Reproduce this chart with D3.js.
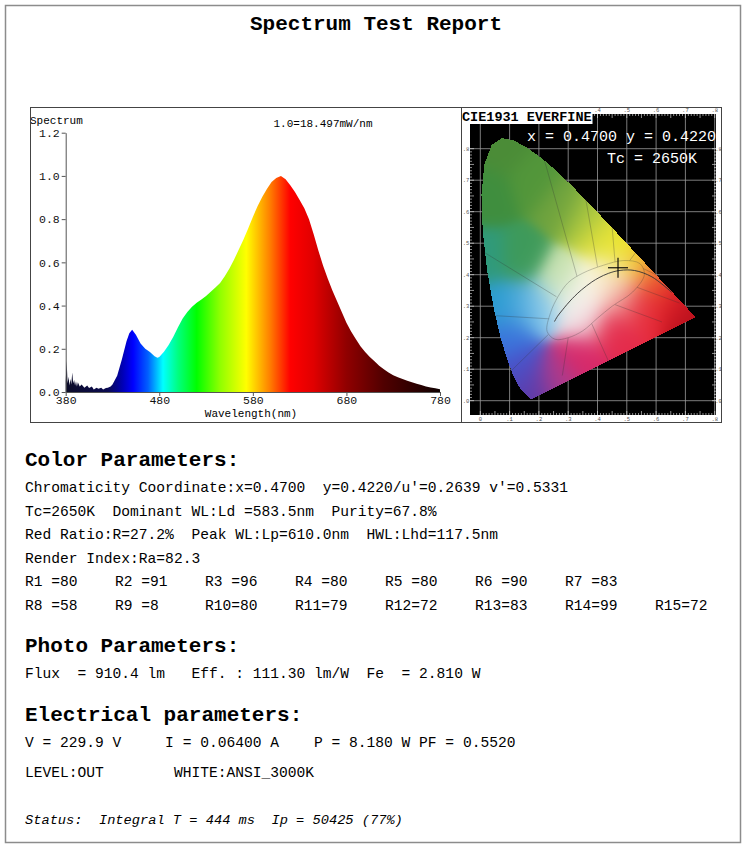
<!DOCTYPE html>
<html>
<head>
<meta charset="utf-8">
<script src="https://cdn.jsdelivr.net/npm/d3@7"></script>
<style>
body { margin: 0; background: #fff; }
text { font-family: "Liberation Mono", "Courier New", monospace; }
</style>
</head>
<body>
<script>
// ---- spectrum (relative, 1.0 = 18.497 mW/nm) ----
var wavelengths = [380,381,382,383,384,385,386,387,388,389,390,391,392,393,395,397,400,403,405,408,410,413,415,418,420,423,425,428,430,435,440,445,448,451,455,460,465,470,475,478,480,485,490,495,500,505,510,515,520,525,530,535,540,545,550,555,560,565,570,575,580,585,590,595,600,605,610,615,620,625,630,635,640,645,650,655,660,665,670,675,680,685,690,695,700,705,710,715,720,725,730,735,740,745,750,755,760,765,770,775,780];
var intensity = [0.05,0.145,0.04,0.07,0.03,0.06,0.035,0.09,0.04,0.055,0.03,0.05,0.025,0.045,0.025,0.035,0.02,0.03,0.018,0.025,0.012,0.02,0.015,0.02,0.012,0.018,0.02,0.025,0.035,0.075,0.15,0.235,0.272,0.288,0.265,0.225,0.2,0.185,0.166,0.158,0.162,0.186,0.217,0.256,0.3,0.34,0.37,0.395,0.413,0.428,0.444,0.464,0.484,0.505,0.536,0.572,0.613,0.66,0.706,0.757,0.81,0.86,0.903,0.94,0.972,0.99,1.0,0.985,0.957,0.926,0.888,0.85,0.8,0.73,0.655,0.585,0.525,0.47,0.42,0.37,0.32,0.28,0.245,0.212,0.185,0.162,0.142,0.122,0.105,0.09,0.078,0.068,0.06,0.052,0.045,0.038,0.032,0.026,0.021,0.017,0.013];
var specYTicks = [0, 0.2, 0.4, 0.6, 0.8, 1.0, 1.2];
var specXTicks = [380, 480, 580, 680, 780];
var specColorWl = [380, 425, 440, 452, 468, 484, 500, 520, 545, 573, 598, 620, 645, 680, 720, 780];
var specColors = ['#0c0c28','#0a0a50','#0000b0','#0000ff','#0060ff','#00ffff','#00ff80','#00ff00','#90ff00','#ffff00','#ff8000','#ff0000','#e00000','#900000','#500000','#100000'];

// ---- CIE 1931 diagram ----
var locusX = [0.1741,0.1733,0.1726,0.1714,0.1689,0.1644,0.1566,0.1440,0.1355,0.1241,0.1096,0.0913,0.0687,0.0454,0.0235,0.0082,0.0039,0.0139,0.0389,0.0743,0.1142,0.1547,0.1929,0.2296,0.2658,0.3016,0.3373,0.3731,0.4087,0.4441,0.4788,0.5125,0.5448,0.5752,0.6029,0.6270,0.6482,0.6658,0.6915,0.7079,0.7190,0.7260,0.7300,0.7334,0.7347];
var locusY = [0.0050,0.0048,0.0048,0.0051,0.0069,0.0109,0.0177,0.0297,0.0399,0.0578,0.0868,0.1327,0.2007,0.2950,0.4127,0.5384,0.6548,0.7502,0.8120,0.8338,0.8262,0.8059,0.7816,0.7543,0.7243,0.6923,0.6589,0.6245,0.5896,0.5547,0.5202,0.4866,0.4544,0.4242,0.3965,0.3725,0.3514,0.3340,0.3083,0.2920,0.2809,0.2740,0.2700,0.2666,0.2653];
var planckX = [0.6528,0.5857,0.5267,0.4770,0.4369,0.4053,0.3805,0.3451,0.3221,0.3064,0.2952,0.2807,0.2637,0.2531];
var planckY = [0.3444,0.3931,0.4133,0.4137,0.4041,0.3907,0.3768,0.3516,0.3318,0.3166,0.3048,0.2884,0.2682,0.2513];
var whiteX = [0.228,0.24,0.265,0.30,0.35,0.42,0.49,0.545,0.56,0.52,0.45,0.40,0.35,0.30,0.255];
var whiteY = [0.22,0.28,0.33,0.375,0.405,0.43,0.445,0.435,0.40,0.345,0.30,0.262,0.222,0.20,0.195];
var regionLines = [
  [[0.232,0.21],[0.10,0.09]], [[0.235,0.26],[0.05,0.27]], [[0.26,0.33],[0.015,0.47]],
  [[0.33,0.395],[0.22,0.76]], [[0.40,0.425],[0.36,0.64]], [[0.46,0.44],[0.45,0.55]],
  [[0.51,0.445],[0.53,0.47]], [[0.555,0.42],[0.60,0.40]], [[0.535,0.36],[0.68,0.31]],
  [[0.38,0.245],[0.44,0.12]], [[0.30,0.20],[0.28,0.08]], [[0.46,0.305],[0.62,0.25]]
];
var cieTicks = [0, 0.1, 0.2, 0.3, 0.4, 0.5, 0.6, 0.7, 0.8];
var cieTickLabels = ['0', '.1', '.2', '.3', '.4', '.5', '.6', '.7', '.8'];
var measX = 0.4700, measY = 0.4220;
// anchor colours for painting the diagram [x, y, colour]
var cieAnchors = [
  [0.08,0.80,'#4b8c37'],[0.03,0.65,'#3f8e3e'],[0.18,0.70,'#52963a'],[0.28,0.62,'#6ea23e'],
  [0.36,0.58,'#a8c640'],[0.42,0.52,'#dede3c'],[0.48,0.48,'#f0ec28'],[0.54,0.44,'#f0b830'],
  [0.60,0.38,'#ec5a30'],[0.66,0.32,'#dc1e28'],[0.72,0.27,'#b8101c'],[0.55,0.30,'#e62a3a'],
  [0.45,0.22,'#e42a4a'],[0.35,0.14,'#d82868'],[0.26,0.07,'#b03a8a'],[0.18,0.03,'#5c3aa8'],
  [0.14,0.10,'#4a50c8'],[0.10,0.20,'#3a74dc'],[0.06,0.30,'#2a9cd2'],[0.14,0.30,'#4eaadc'],
  [0.02,0.45,'#2f9a7c'],[0.14,0.45,'#3e9a5a'],[0.21,0.30,'#90cced'],[0.27,0.38,'#c8e2b0'],
  [0.32,0.32,'#f6f6f2'],[0.40,0.37,'#faf6e4'],[0.36,0.26,'#f2dde2'],[0.46,0.40,'#f6eebc'],
  [0.48,0.33,'#f0a0a0']
];

// ---- report texts ----
var reportTitle = 'Spectrum Test Report';
var colorLines = [
  "Chromaticity Coordinate:x=0.4700  y=0.4220/u'=0.2639 v'=0.5331",
  "Tc=2650K  Dominant WL:Ld =583.5nm  Purity=67.8%",
  "Red Ratio:R=27.2%  Peak WL:Lp=610.0nm  HWL:Lhd=117.5nm",
  "Render Index:Ra=82.3"
];
var rNames = ['R1','R2','R3','R4','R5','R6','R7','R8','R9','R10','R11','R12','R13','R14','R15'];
var rValues = [80, 91, 96, 80, 80, 90, 83, 58, 8, 80, 79, 72, 83, 99, 72];
var photoLine = 'Flux  = 910.4 lm   Eff. : 111.30 lm/W  Fe  = 2.810 W';
var elecLines = ['V = 229.9 V     I = 0.06400 A    P = 8.180 W PF = 0.5520', 'LEVEL:OUT        WHITE:ANSI_3000K'];
var statusLine = 'Status:  Integral T = 444 ms  Ip = 50425 (77%)';

var svg = d3.select('body').append('svg')
    .attr('width', 750)
    .attr('height', 847);

// page frame
svg.append('rect').attr('x', 5.5).attr('y', 5.5).attr('width', 735).attr('height', 837)
    .attr('fill', '#fff').attr('stroke', '#8c8c8c').attr('stroke-width', 1.5);

svg.append('text').attr('x', 376).attr('y', 30).attr('text-anchor', 'middle')
    .attr('font-size', 21).attr('font-weight', 'bold').text(reportTitle);

// ================= spectrum chart =================
var x = d3.scaleLinear().domain([380, 780]).range([65.7, 440]);
var y = d3.scaleLinear().domain([0, 1.2]).range([392, 132.7]);

var defs = svg.append('defs');
var grad = defs.append('linearGradient').attr('id', 'specGrad')
    .attr('gradientUnits', 'userSpaceOnUse')
    .attr('x1', x(380)).attr('x2', x(780)).attr('y1', 0).attr('y2', 0);
specColorWl.forEach(function (w, i) {
    grad.append('stop').attr('offset', (w - 380) / 400).attr('stop-color', specColors[i]);
});

var specData = wavelengths.map(function (w, i) { return { wl: w, v: intensity[i] }; });
var area = d3.area()
    .x(function (d) { return x(d.wl); })
    .y0(y(0))
    .y1(function (d) { return y(d.v); });
svg.append('path').datum(specData).attr('d', area).attr('fill', 'url(#specGrad)');

var yAxis = svg.append('g').attr('transform', 'translate(' + x(380) + ',0)')
    .call(d3.axisLeft(y).tickValues(specYTicks).tickFormat(d3.format('.1f'))
        .tickSize(4).tickSizeOuter(0).tickPadding(2));
var xAxis = svg.append('g').attr('transform', 'translate(0,' + y(0) + ')')
    .call(d3.axisBottom(x).tickValues(specXTicks).tickSize(4).tickSizeOuter(0).tickPadding(0));
[yAxis, xAxis].forEach(function (a) {
    a.selectAll('text').attr('font-size', 11.5).attr('fill', '#111')
        .attr('font-family', '"Liberation Mono", monospace');
    a.selectAll('line,path').attr('stroke', '#555');
});

svg.append('text').attr('x', 30).attr('y', 124).attr('font-size', 11).text('Spectrum');
svg.append('text').attr('x', 323).attr('y', 127).attr('font-size', 11)
    .attr('text-anchor', 'middle').text('1.0=18.497mW/nm');
svg.append('text').attr('x', 251).attr('y', 417).attr('font-size', 11)
    .attr('text-anchor', 'middle').text('Wavelength(nm)');

// ================= CIE diagram =================
var cx = d3.scaleLinear().domain([0, 0.8]).range([480.3, 714.7]);
var cy = d3.scaleLinear().domain([0, 0.8]).range([400.7, 148.7]);
var bx0 = 470, bx1 = 716, by0 = 114, by1 = 415;

svg.append('rect').attr('x', bx0).attr('y', by0).attr('width', bx1 - bx0).attr('height', by1 - by0)
    .attr('fill', '#000');

// grid
var grid = svg.append('g').attr('stroke', '#cfcfcf').attr('stroke-width', 0.8).attr('opacity', 0.75);
cieTicks.forEach(function (t) {
    grid.append('line').attr('x1', cx(t)).attr('x2', cx(t)).attr('y1', by0).attr('y2', by1);
    grid.append('line').attr('x1', bx0).attr('x2', bx1).attr('y1', cy(t)).attr('y2', cy(t));
});
// ruler ticks along edges
var fine = d3.range(0, 0.81, 0.01);
var ruler = svg.append('g').attr('stroke', '#eee').attr('stroke-width', 0.6);
fine.forEach(function (t, i) {
    var len = i % 5 === 0 ? 4 : 2;
    ruler.append('line').attr('x1', cx(t)).attr('x2', cx(t)).attr('y1', by1).attr('y2', by1 - len);
    ruler.append('line').attr('x1', cx(t)).attr('x2', cx(t)).attr('y1', by0).attr('y2', by0 + len);
    ruler.append('line').attr('x1', bx0).attr('x2', bx0 + len).attr('y1', cy(t)).attr('y2', cy(t));
    ruler.append('line').attr('x1', bx1).attr('x2', bx1 - len).attr('y1', cy(t)).attr('y2', cy(t));
});

// paint the chromaticity area (smooth gaussian blend of anchor colours)
var locusPoly = locusX.map(function (v, i) { return [v, locusY[i]]; });
var anchors = cieAnchors.map(function (a) { var c = d3.rgb(a[2]); return [a[0], a[1], c.r, c.g, c.b]; });
var sigma2 = 2 * 0.048 * 0.048;
var cw = bx1 - bx0, ch = by1 - by0;
var canvas = document.createElement('canvas');
canvas.width = cw; canvas.height = ch;
var ctx = canvas.getContext('2d');
var img = ctx.createImageData(cw, ch);
for (var py = 0; py < ch; py++) {
    for (var px = 0; px < cw; px++) {
        var u = cx.invert(bx0 + px + 0.5), v = cy.invert(by0 + py + 0.5);
        if (!d3.polygonContains(locusPoly, [u, v])) continue;
        var sw = 0, r = 0, g = 0, b = 0;
        for (var k = 0; k < anchors.length; k++) {
            var dx = u - anchors[k][0], dy = v - anchors[k][1];
            var w = Math.exp(-(dx * dx + dy * dy) / sigma2) + 1e-12;
            sw += w; r += w * anchors[k][2]; g += w * anchors[k][3]; b += w * anchors[k][4];
        }
        var idx = (py * cw + px) * 4;
        img.data[idx] = r / sw; img.data[idx + 1] = g / sw; img.data[idx + 2] = b / sw; img.data[idx + 3] = 255;
    }
}
ctx.putImageData(img, 0, 0);
svg.append('image').attr('x', bx0).attr('y', by0).attr('width', cw).attr('height', ch)
    .attr('href', canvas.toDataURL());

var lineFn = d3.line().x(function (d) { return cx(d[0]); }).y(function (d) { return cy(d[1]); });
var regions = svg.append('g').attr('stroke', '#333').attr('stroke-width', 0.6).attr('fill', 'none').attr('opacity', 0.45);
regionLines.forEach(function (l) { regions.append('path').attr('d', lineFn(l)); });
regions.append('path')
    .attr('d', d3.line().curve(d3.curveCatmullRomClosed)
        .x(function (d) { return cx(d[0]); }).y(function (d) { return cy(d[1]); })
        (whiteX.map(function (v, i) { return [v, whiteY[i]]; })));

svg.append('path')
    .attr('d', d3.line().curve(d3.curveCatmullRom)
        .x(function (d) { return cx(d[0]); }).y(function (d) { return cy(d[1]); })
        (planckX.map(function (v, i) { return [v, planckY[i]]; })))
    .attr('fill', 'none').attr('stroke', '#333').attr('stroke-width', 0.9);

// measured point
svg.append('g').attr('stroke', '#000').attr('stroke-width', 1.1)
    .call(function (gg) {
        gg.append('line').attr('x1', cx(measX) - 10).attr('x2', cx(measX) + 10)
            .attr('y1', cy(measY)).attr('y2', cy(measY));
        gg.append('line').attr('x1', cx(measX)).attr('x2', cx(measX))
            .attr('y1', cy(measY) - 10).attr('y2', cy(measY) + 10);
    });

// tiny tick labels around the photo
var tl = svg.append('g').attr('font-size', 5.5).attr('fill', '#555');
cieTicks.forEach(function (t, i) {
    tl.append('text').attr('x', cx(t)).attr('y', 421).attr('text-anchor', 'middle').text(cieTickLabels[i]);
    tl.append('text').attr('x', 466).attr('y', cy(t) + 2).attr('text-anchor', 'middle').text(i === 0 ? '.0' : cieTickLabels[i]);
    tl.append('text').attr('x', 718.5).attr('y', cy(t) + 2).attr('text-anchor', 'middle').text(i === 0 ? '.0' : cieTickLabels[i]);
    if (t >= 0.4) tl.append('text').attr('x', cx(t)).attr('y', 112).attr('text-anchor', 'middle').text(cieTickLabels[i]);
});

svg.append('rect').attr('x', 461.5).attr('y', 108).attr('width', 131).attr('height', 16).attr('fill', '#fff');
svg.append('text').attr('x', 462).attr('y', 121).attr('font-size', 13.5).attr('font-weight', 'bold')
    .text('CIE1931 EVERFINE');
svg.append('text').attr('x', 527).attr('y', 141).attr('font-size', 15).attr('fill', '#fff')
    .attr('xml:space', 'preserve').text('x = ' + measX.toFixed(4) + ' y = ' + measY.toFixed(4));
svg.append('text').attr('x', 607).attr('y', 163).attr('font-size', 15).attr('fill', '#fff')
    .text('Tc = 2650K');

// chart frame
svg.append('rect').attr('x', 30.5).attr('y', 107.5).attr('width', 691).attr('height', 315)
    .attr('fill', 'none').attr('stroke', '#444');
svg.append('line').attr('x1', 461.5).attr('x2', 461.5).attr('y1', 107.5).attr('y2', 422.5).attr('stroke', '#444');

// ================= parameter texts =================
function heading(t, yy) {
    svg.append('text').attr('x', 25).attr('y', yy).attr('font-size', 21).attr('font-weight', 'bold').text(t);
}
function body(t, xx, yy, size, italic) {
    svg.append('text').attr('x', xx).attr('y', yy).attr('font-size', size || 14.6)
        .attr('font-style', italic ? 'italic' : null)
        .style('white-space', 'pre').text(t);
}
heading('Color Parameters:', 466);
colorLines.forEach(function (t, i) { body(t, 25, 492 + i * 23.5); });
rNames.forEach(function (n, i) {
    var row = i < 7 ? 0 : 1, col = i < 7 ? i : i - 7;
    body((n + '   ').slice(0, 3) + '=' + rValues[i], 25 + col * 90, 586 + row * 23.5);
});
heading('Photo Parameters:', 652);
body(photoLine, 25, 678);
heading('Electrical parameters:', 721);
body(elecLines[0], 25, 747);
body(elecLines[1], 25, 777);
body(statusLine, 25, 824, 13.7, true);
</script>
</body>
</html>
